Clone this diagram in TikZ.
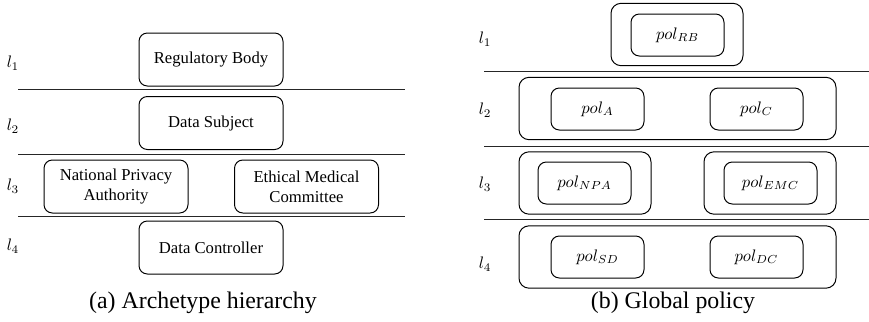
\documentclass[tikz,border=0pt]{standalone}
\usepackage{amsmath}
\usepackage{fontspec}
\setmainfont{Liberation Serif}
\usetikzlibrary{positioning}

\begin{document}
\begin{tikzpicture}[x=0.6pt, y=-0.6pt, semithick]
  \tikzstyle{role}=[draw, rounded corners=5pt, minimum width=86.4pt, minimum height=31.8pt, align=center, inner sep=1pt]
  \tikzstyle{pol}=[draw, rounded corners=5pt, minimum width=55.8pt, minimum height=25.2pt, inner sep=1pt]
  \tikzstyle{group}=[draw, rounded corners=6pt, minimum height=37.4pt, inner sep=0pt]
  \tikzstyle{sep}=[line width=0.6pt, black!85]
  \tikzstyle{caption}=[font=\fontsize{14.3}{17}\selectfont]
  \useasboundingbox (0,0) rectangle (869,322);

  % (a) archetype hierarchy
  \node (la1) at (13,63)  {$l_1$};
  \node (la2) at (13,126) {$l_2$};
  \node (la3) at (13,186) {$l_3$};
  \node (la4) at (13,246) {$l_4$};

  \node[role] (rb)  at (211,59.5)  {Regulatory Body};
  \node[role] (ds)  at (211,123)   {Data Subject};
  \node[role] (npa) at (116,186.5) {National Privacy\\Authority};
  \node[role] (emc) at (306.5,186.5) {Ethical Medical\\Committee};
  \node[role] (dc)  at (211,247.5) {Data Controller};

  \draw[sep] (18,89)  -- (405,89);
  \draw[sep] (18,154) -- (405,154);
  \draw[sep] (18,216) -- (405,216);

  \node[caption] (capa) at (203,303) {(a) Archetype hierarchy};

  % (b) global policy
  \node (lb1) at (485,39)  {$l_1$};
  \node (lb2) at (485,110) {$l_2$};
  \node (lb3) at (485,184) {$l_3$};
  \node (lb4) at (485,264) {$l_4$};

  \node[group, minimum width=79.2pt] (g1) at (677,34.5) {};
  \node[pol] (polrb) at (677.5,35) {$pol_{RB}$};

  \node[group, minimum width=190.2pt] (g2) at (677.5,108.5) {};
  \node[pol] (pola) at (597.5,109) {$pol_{A}$};
  \node[pol] (polc) at (756.5,109) {$pol_{C}$};

  \node[group, minimum width=79.2pt] (g3a) at (585,183) {};
  \node[pol] (polnpa) at (584.5,183) {$pol_{NPA}$};
  \node[group, minimum width=79.2pt] (g3b) at (770,183) {};
  \node[pol] (polemc) at (770.5,183) {$pol_{EMC}$};

  \node[group, minimum width=190.2pt] (g4) at (677.5,257) {};
  \node[pol] (polsd) at (597.5,257) {$pol_{SD}$};
  \node[pol] (poldc) at (756.5,257) {$pol_{DC}$};

  \draw[sep] (484,71)  -- (869,71);
  \draw[sep] (484,146) -- (869,146);
  \draw[sep] (484,219) -- (869,219);

  \node[caption] (capb) at (673,303) {(b) Global policy};
\end{tikzpicture}
\end{document}
